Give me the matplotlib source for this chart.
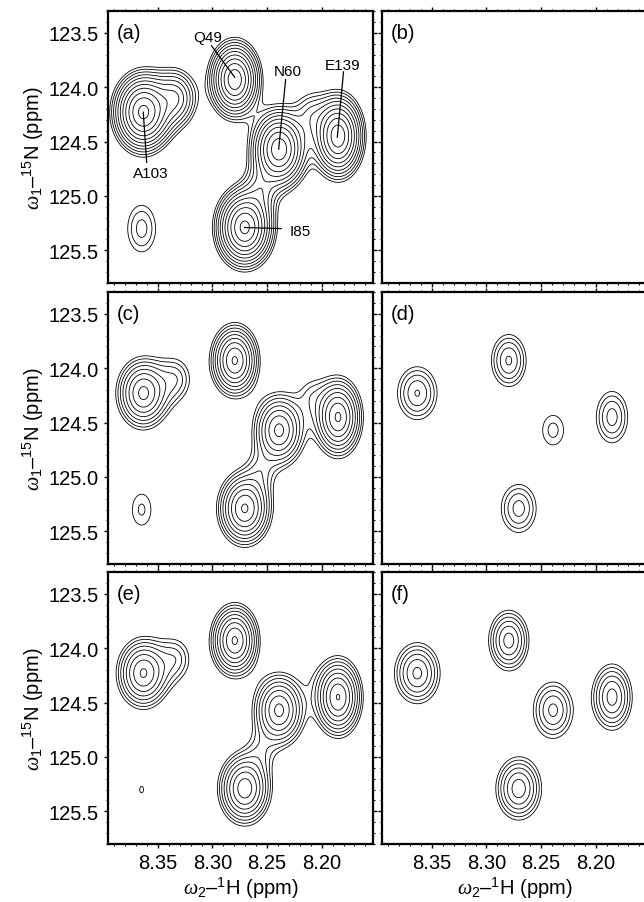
import numpy as np
import matplotlib
matplotlib.use('Agg')
import matplotlib.pyplot as plt
from matplotlib.ticker import MultipleLocator, FormatStrFormatter

plt.rcParams['font.family'] = ['Liberation Sans', 'DejaVu Sans']
plt.rcParams['mathtext.fontset'] = 'custom'
plt.rcParams['mathtext.rm'] = 'Liberation Sans'
plt.rcParams['mathtext.it'] = 'Liberation Serif:italic'
plt.rcParams['mathtext.cal'] = 'Liberation Serif'

# ---------------- data ----------------
panel_labels = ['(a)', '(b)', '(c)', '(d)', '(e)', '(f)']
peak_names = ['A103', 'Q49', 'N60', 'E139', 'I85', 'minor', 'A103 shoulder',
              'N60/E139 ridge', 'N60/I85 ridge']
peak_h = [8.3634, 8.2796, 8.2390, 8.1850, 8.2705, 8.3649, 8.3340, 8.2100, 8.2560]
peak_n = [124.23, 123.93, 124.57, 124.45, 125.29, 125.30, 124.10, 124.25, 124.95]
hwhm_h = [0.0141, 0.0122, 0.0137, 0.0122, 0.0136, 0.0133, 0.0127, 0.0115, 0.0106]
hwhm_n = [0.189, 0.184, 0.195, 0.201, 0.188, 0.223, 0.170, 0.170, 0.160]

intensity_a = [15.0, 13.0, 13.0, 13.0, 15.0, 1.9, 4.5, 1.8, 2.0]
intensity_b = [0, 0, 0, 0, 0, 0, 0, 0, 0]
intensity_c = [6.8, 8.5, 6.8, 8.5, 8.5, 1.37, 1.9, 1.1, 1.2]
intensity_d = [2.93, 3.0, 1.44, 2.5, 2.5, 0, 0, 0, 0]
intensity_e = [6.5, 8.5, 6.8, 8.3, 7.5, 1.02, 1.8, 0.3, 1.0]
intensity_f = [4.0, 4.2, 3.1, 4.2, 4.4, 0, 0, 0, 0]
intensities = [intensity_a, intensity_b, intensity_c, intensity_d, intensity_e, intensity_f]

shape_exponent = 1.75
contour_base = 1.0
contour_factor = 1.3
n_levels = 14

# assignments in panel (a): label text position and line start/end (ppm)
assign_names = ['Q49', 'N60', 'E139', 'A103', 'I85']
assign_text_h = [8.3048, 8.2312, 8.1805, 8.3567, 8.2200]
assign_text_n = [123.54, 123.85, 123.80, 124.79, 125.32]
assign_start_h = [8.3009, 8.2330, 8.1800, 8.3634, 8.2705]
assign_start_n = [123.62, 123.93, 123.86, 124.23, 125.29]
assign_end_h = [8.2796, 8.2394, 8.1857, 8.3603, 8.2370]
assign_end_n = [123.91, 124.57, 124.46, 124.69, 125.30]

h_ticks = [8.35, 8.30, 8.25, 8.20]
n_ticks = [123.5, 124.0, 124.5, 125.0, 125.5]
h_lim = (8.3957, 8.153)
n_lim = (125.80, 123.30)

# ---------------- figure ----------------
W, H = 644, 903
fig = plt.figure(figsize=(W / 100, H / 100), dpi=100)

col_x = [108, 382]
row_y = [12, 293, 573]
pw, ph = 265, 272

hh = np.linspace(h_lim[1], h_lim[0], 500)
nn = np.linspace(n_lim[1], n_lim[0], 500)
HH, NN = np.meshgrid(hh, nn)
levels = contour_base * contour_factor ** np.arange(n_levels)

for i in range(6):
    r, c = divmod(i, 2)
    x0 = col_x[c] / W
    y0 = 1 - (row_y[r] + ph) / H
    ax = fig.add_axes([x0, y0, pw / W, ph / H])
    Z = np.zeros_like(HH)
    for k in range(len(peak_h)):
        a = intensities[i][k]
        if a <= 0:
            continue
        u = np.sqrt(((HH - peak_h[k]) / hwhm_h[k]) ** 2
                    + ((NN - peak_n[k]) / hwhm_n[k]) ** 2)
        Z += a * np.exp(-np.log(2) * u ** shape_exponent)
    if Z.max() > levels[0]:
        ax.contour(HH, NN, Z, levels=levels, colors='black', linewidths=0.6)
    ax.set_xlim(*h_lim)
    ax.set_ylim(*n_lim)
    ax.set_xticks(h_ticks)
    ax.set_yticks(n_ticks)
    ax.xaxis.set_minor_locator(MultipleLocator(0.01))
    ax.yaxis.set_minor_locator(MultipleLocator(0.1))
    ax.xaxis.set_major_formatter(FormatStrFormatter('%.2f'))
    ax.yaxis.set_major_formatter(FormatStrFormatter('%.1f'))
    ax.tick_params(which='both', direction='out', top=True, right=True,
                   labelsize=14.5, width=1.0, color='black')
    ax.tick_params(which='major', length=3)
    ax.tick_params(which='minor', length=1.5, width=0.8)
    for s in ax.spines.values():
        s.set_linewidth(1.6)
    if c == 1:
        ax.tick_params(labelleft=False)
    else:
        ax.set_ylabel(r'$\omega_1$–$^{15}$N (ppm)', fontsize=14.5, labelpad=2)
    if r < 2:
        ax.tick_params(labelbottom=False)
    else:
        ax.set_xlabel(r'$\omega_2$–$^{1}$H (ppm)', fontsize=14.5, labelpad=2)
    ax.text(0.034, 0.955, panel_labels[i], transform=ax.transAxes,
            ha='left', va='top', fontsize=14.5)
    if i == 0:
        for k in range(len(assign_names)):
            ax.plot([assign_start_h[k], assign_end_h[k]],
                    [assign_start_n[k], assign_end_n[k]],
                    color='black', lw=0.9)
            ax.text(assign_text_h[k], assign_text_n[k], assign_names[k],
                    ha='center', va='center', fontsize=11)

fig.savefig('out.png', dpi=100)
